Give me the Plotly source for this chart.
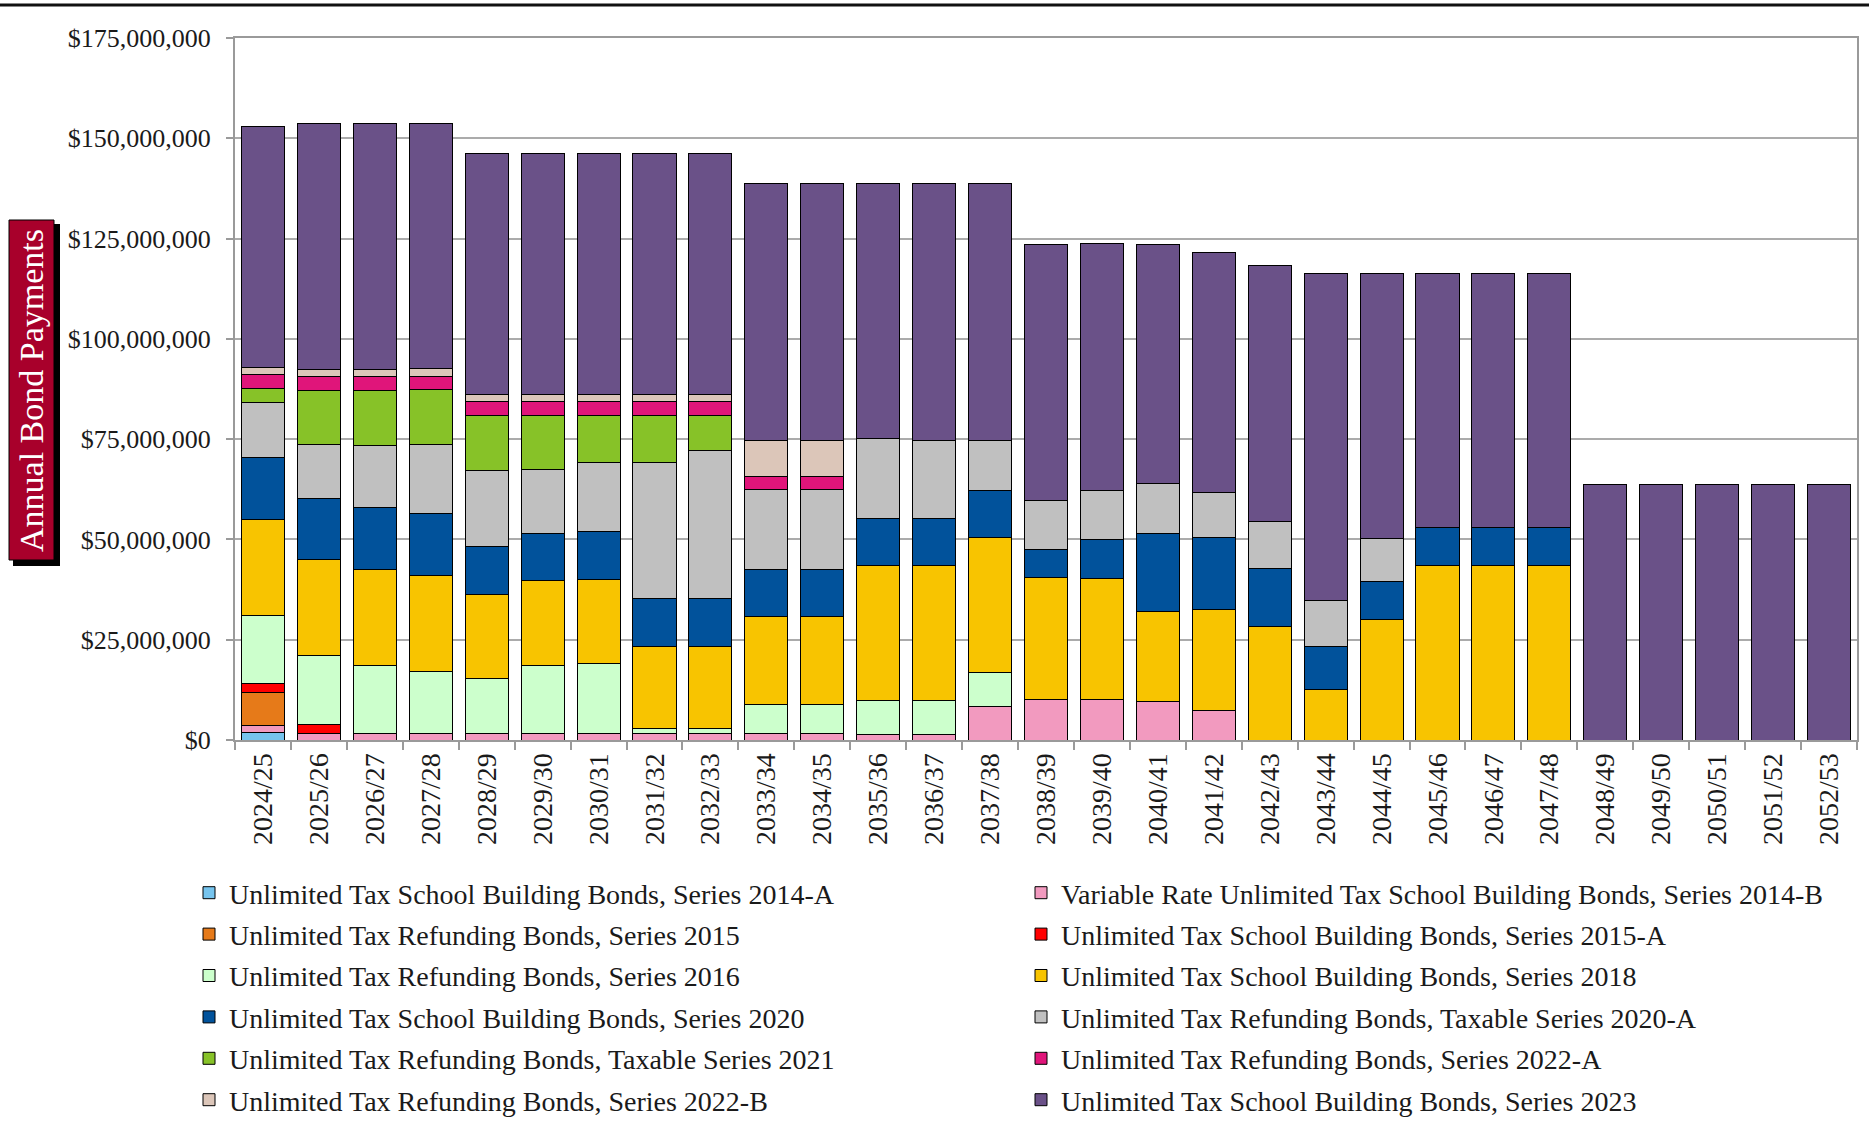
import plotly.graph_objects as go

# ---------------- data (values in millions of dollars) ----------------
years = ["2024/25", "2025/26", "2026/27", "2027/28", "2028/29", "2029/30", "2030/31",
         "2031/32", "2032/33", "2033/34", "2034/35", "2035/36", "2036/37", "2037/38",
         "2038/39", "2039/40", "2040/41", "2041/42", "2042/43", "2043/44", "2044/45",
         "2045/46", "2046/47", "2047/48", "2048/49", "2049/50", "2050/51", "2051/52",
         "2052/53"]

s2014A = [1.8] + [0] * 28
s2014B = [1.7, 1.5, 1.5, 1.5, 1.5, 1.5, 1.5, 1.5, 1.5, 1.5, 1.5, 1.4, 1.4, 8.4,
          10.2, 10.05, 9.7, 7.4, 0, 0, 0, 0, 0, 0, 0, 0, 0, 0, 0]
s2015 = [8.3] + [0] * 28
s2015A = [2.2, 2.3] + [0] * 27
s2016 = [17.0, 17.2, 17.1, 15.7, 13.8, 17.1, 17.5, 1.4, 1.4, 7.4, 7.4, 8.5, 8.5, 8.4,
         0, 0, 0, 0, 0, 0, 0, 0, 0, 0, 0, 0, 0, 0, 0]
s2018 = [24.0, 24.0, 24.0, 23.9, 21.0, 21.2, 21.1, 20.5, 20.5, 21.8, 21.9, 33.65, 33.65,
         33.65, 30.3, 30.15, 22.3, 25.2, 28.25, 12.47, 30.1, 43.45, 43.45, 43.45,
         0, 0, 0, 0, 0]
s2020 = [15.5, 15.2, 15.4, 15.4, 11.9, 11.7, 11.8, 11.8, 11.8, 11.9, 11.75, 11.7, 11.7,
         11.8, 6.9, 9.7, 19.6, 17.8, 14.55, 10.8, 9.5, 9.55, 9.55, 9.55, 0, 0, 0, 0, 0]
s2020A = [13.6, 13.5, 15.5, 17.1, 19.1, 16.0, 17.2, 33.9, 37.0, 19.8, 19.8, 19.8, 19.5,
          12.4, 12.4, 12.4, 12.4, 11.4, 11.7, 11.6, 10.7, 0, 0, 0, 0, 0, 0, 0, 0]
s2021 = [3.6, 13.5, 13.7, 13.8, 13.6, 13.45, 11.85, 11.85, 8.8] + [0] * 20
s2022A = [3.5, 3.4, 3.3, 3.3, 3.5, 3.5, 3.5, 3.5, 3.5, 3.4, 3.4] + [0] * 18
s2022B = [1.75, 1.8, 1.8, 1.8, 1.7, 1.7, 1.7, 1.7, 1.7, 8.8, 8.8] + [0] * 18
s2023 = [59.9, 61.25, 61.35, 61.25, 60.1, 60.1, 60.1, 60.1, 60.1, 64.2, 64.2, 63.65, 63.9,
         64.1, 63.8, 61.35, 59.6, 59.8, 63.8, 81.5, 66.1, 63.4, 63.4, 63.4,
         63.8, 63.8, 63.8, 63.8, 63.8]

series = [
    ("Unlimited Tax School Building Bonds, Series 2014-A", s2014A, "#76C4EE", "legend"),
    ("Variable Rate Unlimited Tax School Building Bonds, Series 2014-B", s2014B, "#F29ABF", "legend2"),
    ("Unlimited Tax Refunding Bonds, Series 2015", s2015, "#E67A19", "legend"),
    ("Unlimited Tax School Building Bonds, Series 2015-A", s2015A, "#FF0000", "legend2"),
    ("Unlimited Tax Refunding Bonds, Series 2016", s2016, "#CCFFCC", "legend"),
    ("Unlimited Tax School Building Bonds, Series 2018", s2018, "#F8C400", "legend2"),
    ("Unlimited Tax School Building Bonds, Series 2020", s2020, "#01529B", "legend"),
    ("Unlimited Tax Refunding Bonds, Taxable Series 2020-A", s2020A, "#C0C0C0", "legend2"),
    ("Unlimited Tax Refunding Bonds, Taxable Series 2021", s2021, "#87C228", "legend"),
    ("Unlimited Tax Refunding Bonds, Series 2022-A", s2022A, "#E0157A", "legend2"),
    ("Unlimited Tax Refunding Bonds, Series 2022-B", s2022B, "#DCC6B9", "legend"),
    ("Unlimited Tax School Building Bonds, Series 2023", s2023, "#6A5188", "legend2"),
]

FONT = "Liberation Serif, Times New Roman, serif"
W, H = 1869, 1123
L, R, T, B = 235, 12, 38, 383
PW, PH = W - L - R, H - T - B


def px(x):
    return (x - L) / PW


def py(y):
    return (H - B - y) / PH


fig = go.Figure()
for name, vals, color, lg in series:
    fig.add_trace(go.Bar(
        x=years, y=[v * 1e6 for v in vals], name=name,
        marker=dict(color=color, line=dict(color="#000000", width=1)),
        legend=lg, legendgroup=name,
    ))

legend_font = dict(family=FONT, size=28, color="#1a1a1a")
fig.update_layout(
    width=W, height=H,
    barmode="stack", bargap=0.23,
    paper_bgcolor="white", plot_bgcolor="white",
    margin=dict(l=L, r=R, t=T, b=B, autoexpand=False),
    font=dict(family=FONT, color="#1a1a1a"),
    legend=dict(x=px(189), y=py(868), xanchor="left", yanchor="top",
                orientation="v", traceorder="grouped", tracegroupgap=2,
                font=legend_font, bgcolor="rgba(0,0,0,0)"),
    legend2=dict(x=px(1021), y=py(868), xanchor="left", yanchor="top",
                 orientation="v", traceorder="grouped", tracegroupgap=2,
                 font=legend_font, bgcolor="rgba(0,0,0,0)"),
    xaxis=dict(
        type="category", tickangle=-90, tickson="boundaries",
        ticks="outside", ticklen=8, tickwidth=2, tickcolor="#9A9A9A",
        showline=True, linecolor="#9A9A9A", linewidth=2, mirror=True,
        tickfont=dict(family=FONT, size=28, color="#1a1a1a"),
        showgrid=False,
    ),
    yaxis=dict(
        range=[0, 175e6], dtick=25e6, tick0=0,
        tickprefix="$", tickformat=",d",
        ticks="outside", ticklen=7, tickwidth=2, tickcolor="#9A9A9A",
        showline=True, linecolor="#9A9A9A", linewidth=2, mirror=True,
        showgrid=True, gridcolor="#ABABAB", gridwidth=1.5,
        tickfont=dict(family=FONT, size=26, color="#1a1a1a"),
        ticklabelstandoff=10,
        zeroline=False,
    ),
    shapes=[
        # top rule
        dict(type="line", xref="paper", yref="paper", x0=px(0), x1=px(W), y0=py(5), y1=py(5),
             line=dict(color="#111111", width=3)),
        # y-title shadow
        dict(type="rect", xref="paper", yref="paper", x0=px(13), x1=px(60), y0=py(224), y1=py(566),
             fillcolor="#000000", line=dict(width=0), layer="above"),
        # y-title box
        dict(type="rect", xref="paper", yref="paper", x0=px(9), x1=px(54), y0=py(220), y1=py(560),
             fillcolor="#A8002B", line=dict(color="#000000", width=1), layer="above"),
    ],
    annotations=[
        dict(text="Annual Bond Payments", textangle=-90, xref="paper", yref="paper",
             x=px(32), y=py(390), xanchor="center", yanchor="middle", showarrow=False,
             font=dict(family=FONT, size=34, color="white")),
    ],
)

fig.write_html("out.html", config={"displayModeBar": False},
               post_script="document.body.style.margin='0px';document.body.style.padding='0px';")
